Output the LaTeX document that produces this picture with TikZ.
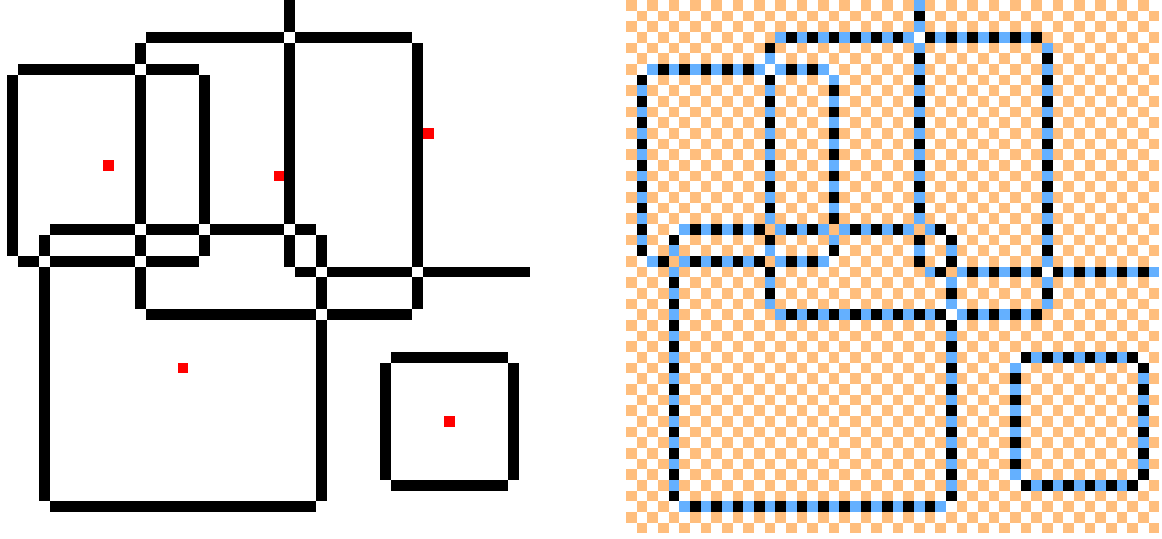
\documentclass[tikz,border=0pt]{standalone}
\usetikzlibrary{calc}

\definecolor{checker}{RGB}{255,190,125}
\definecolor{antsblue}{RGB}{100,176,255}

% outline pixels, split at crossings and cut corners
% horizontal: row/first col/last col/phase (0 = blue first, 1 = black first)
\newcommand\hruns{6/2/12/0, 6/14/18/0, 24/2/3/0, 24/5/12/0, 24/14/18/0,
	3/14/26/0, 3/28/38/1, 29/14/29/0, 29/31/38/0,
	25/28/29/0, 25/31/38/0, 25/40/49/1,
	21/5/12/0, 21/14/18/0, 21/20/26/0, 21/28/29/0, 47/5/29/0,
	33/37/47/1, 45/37/47/1}
% vertical: col/first row/last row/phase
\newcommand\vruns{1/7/23/1, 19/7/20/0, 19/22/23/0,
	13/4/5/1, 13/7/20/1, 13/22/23/1, 13/25/28/1, 39/4/24/0, 39/26/28/0,
	27/0/2/0, 27/4/20/0, 27/22/24/1,
	4/22/23/1, 4/25/46/0, 30/22/24/1, 30/26/28/0, 30/30/46/1,
	36/34/44/0, 48/34/44/1}

\begin{document}
\begin{tikzpicture}[
	x=2mm, y=-2mm,
	inkpx/.style={fill=black},
	reddot/.style={fill=red},
	tile/.style={fill=checker},
	antblue/.style={fill=antsblue},
	antblack/.style={fill=black},
]
\useasboundingbox[fill=white] (0,0) rectangle (108.94,50.53);

% Levy panel: cerne obrysy, cervene stredy
\begin{scope}[shift={(-0.35,0)}]
\foreach \r/\a/\b/\s in \hruns
	\fill[inkpx] (\a,\r) rectangle (\b+1,\r+1);
\foreach \c/\a/\b/\s in \vruns
	\fill[inkpx] (\c,\a) rectangle (\c+1,\b+1);
\foreach \c/\r in {10/15, 26/16, 40/12, 17/34, 42/39}
	\fill[reddot] (\c,\r) rectangle ++(1,1);
\end{scope}

% Pravy panel: sachovnice a mravenci
\begin{scope}[shift={(58.69,0)}]
\foreach \r in {0,...,49}{
	\pgfmathtruncatemacro\o{mod(\r,2)}
	\foreach \c in {0,2,...,48}
		\fill[tile] (\c+\o,\r) rectangle ++(1,1);
}
\foreach \r/\a/\b/\s in \hruns{
	\fill[antblue] (\a,\r) rectangle (\b+1,\r+1);
	\foreach \c in {\a,...,\b}{
		\pgfmathtruncatemacro\k{mod(\c-\a+\s,2)}
		\ifnum\k=1 \fill[antblack] (\c,\r) rectangle ++(1,1); \fi
	}
}
\foreach \c/\a/\b/\s in \vruns{
	\fill[antblue] (\c,\a) rectangle (\c+1,\b+1);
	\foreach \r in {\a,...,\b}{
		\pgfmathtruncatemacro\k{mod(\r-\a+\s,2)}
		\ifnum\k=1 \fill[antblack] (\c,\r) rectangle ++(1,1); \fi
	}
}
% krizeni
\foreach \c/\r/\f in {13/6/white, 27/3/white, 39/25/white, 30/29/white,
	19/21/checker, 13/21/checker, 4/24/checker, 13/24/checker,
	27/21/checker, 30/25/checker}
	\fill[fill=\f] (\c,\r) rectangle ++(1,1);
\end{scope}
\end{tikzpicture}
\end{document}
